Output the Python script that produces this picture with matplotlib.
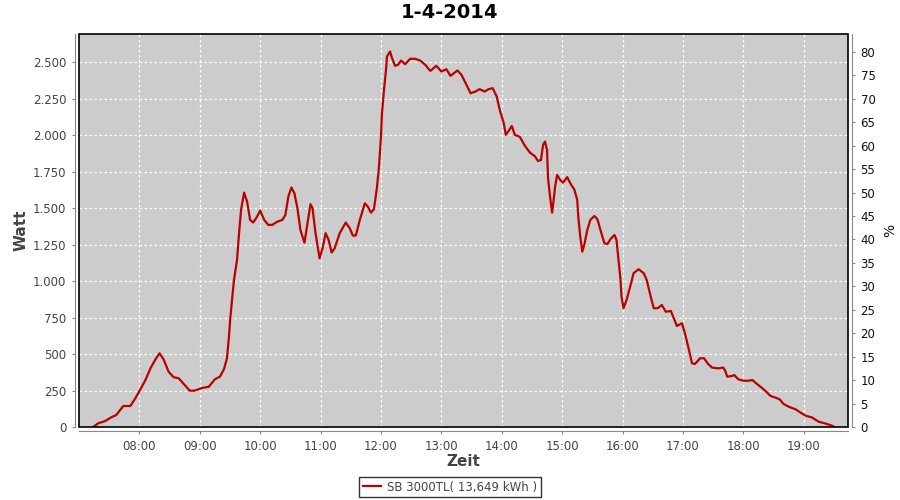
import matplotlib
matplotlib.use("Agg")
import matplotlib.pyplot as plt
import matplotlib.dates as mdates
from matplotlib.ticker import FuncFormatter, MultipleLocator
from matplotlib.patches import Rectangle
import datetime as dt

title = "1-4-2014"
series_name = "SB 3000TL( 13,649 kWh )"

times = [
    "07:14", "07:19", "07:26", "07:32", "07:37", "07:44", "07:51", "07:56", "08:01", "08:06",
    "08:11", "08:16", "08:20", "08:24", "08:29", "08:34", "08:39", "08:44", "08:50", "08:55",
    "09:02", "09:09", "09:15", "09:20", "09:24", "09:27", "09:29", "09:30", "09:32", "09:34",
    "09:37", "09:39", "09:41", "09:44", "09:47", "09:50", "09:53", "09:57", "10:00", "10:04",
    "10:08", "10:12", "10:17", "10:22", "10:25", "10:28", "10:31", "10:34", "10:37", "10:40",
    "10:44", "10:46", "10:50", "10:52", "10:55", "10:59", "11:02", "11:05", "11:08", "11:11",
    "11:14", "11:19", "11:25", "11:29", "11:32", "11:35", "11:39", "11:44", "11:47", "11:50",
    "11:53", "11:56", "11:58", "12:00", "12:01", "12:03", "12:05", "12:06", "12:09", "12:11",
    "12:14", "12:17", "12:20", "12:24", "12:29", "12:34", "12:39", "12:44", "12:49", "12:55",
    "13:00", "13:05", "13:09", "13:16", "13:20", "13:25", "13:29", "13:34", "13:38", "13:43",
    "13:47", "13:51", "13:55", "13:58", "14:02", "14:04", "14:07", "14:10", "14:13", "14:18",
    "14:23", "14:28", "14:33", "14:36", "14:39", "14:41", "14:43", "14:45", "14:46", "14:48",
    "14:50", "14:51", "14:53", "14:55", "14:58", "15:01", "15:05", "15:09", "15:12", "15:15",
    "15:16", "15:18", "15:20", "15:22", "15:25", "15:28", "15:32", "15:35", "15:39", "15:42",
    "15:45", "15:48", "15:52", "15:54", "15:56", "15:58", "15:59", "16:01", "16:04", "16:08",
    "16:11", "16:16", "16:21", "16:24", "16:28", "16:31", "16:35", "16:39", "16:43", "16:48",
    "16:51", "16:54", "16:59", "17:02", "17:06", "17:09", "17:12", "17:17", "17:21", "17:25",
    "17:29", "17:35", "17:40", "17:42", "17:44", "17:49", "17:51", "17:55", "18:00", "18:05",
    "18:09", "18:12", "18:17", "18:22", "18:27", "18:32", "18:36", "18:40", "18:45", "18:52",
    "18:57", "19:02", "19:08", "19:15", "19:21", "19:29", "19:30",
]
watts = [
    0, 25, 41, 66, 82, 144, 144, 197, 258, 322,
    402, 464, 505, 464, 379, 341, 334, 295, 249, 249,
    267, 276, 327, 345, 395, 471, 620, 720, 870, 1008,
    1145, 1328, 1488, 1606, 1545, 1419, 1401, 1442, 1483, 1419,
    1385, 1385, 1407, 1419, 1453, 1579, 1641, 1602, 1499, 1350,
    1263, 1350, 1527, 1499, 1328, 1156, 1225, 1328, 1282, 1195,
    1225, 1328, 1401, 1362, 1312, 1312, 1419, 1533, 1510, 1469,
    1492, 1640, 1780, 1990, 2150, 2310, 2447, 2539, 2573, 2528,
    2475, 2482, 2511, 2486, 2523, 2523, 2511, 2482, 2440, 2475,
    2436, 2452, 2406, 2443, 2413, 2344, 2287, 2299, 2315, 2299,
    2315, 2322, 2264, 2173, 2082, 2002, 2031, 2063, 2002, 1988,
    1927, 1880, 1855, 1823, 1830, 1933, 1956, 1899, 1705, 1579,
    1469, 1522, 1647, 1727, 1693, 1675, 1712, 1659, 1629, 1556,
    1442, 1305, 1202, 1248, 1350, 1419, 1446, 1424, 1328, 1259,
    1254, 1287, 1316, 1282, 1145, 1008, 893, 814, 870, 973,
    1054, 1081, 1054, 1008, 893, 814, 814, 836, 790, 795,
    745, 692, 711, 642, 528, 437, 432, 471, 471, 432,
    407, 402, 407, 386, 345, 350, 356, 327, 317, 317,
    322, 304, 276, 247, 213, 201, 190, 158, 139, 121,
    98, 77, 66, 36, 25, 7, 0,
]

day = dt.date(2014, 4, 1)
xs = [dt.datetime.combine(day, dt.datetime.strptime(t, "%H:%M").time()) for t in times]

fig = plt.figure(figsize=(9, 5), dpi=100)
fig.patch.set_facecolor("white")
ax = fig.add_axes([79 / 900, 1 - 427 / 500, (848 - 79) / 900, (427 - 34) / 500])
ax.set_facecolor("#cccccc")

line, = ax.plot(xs, watts, color="#bb0000", lw=1.6, zorder=3, label=series_name)

ax.set_xlim(dt.datetime(2014, 4, 1, 7, 0), dt.datetime(2014, 4, 1, 19, 44))
ax.set_ylim(0, 2693)
ax.xaxis.set_major_locator(mdates.HourLocator(byhour=range(8, 20)))
ax.xaxis.set_major_formatter(mdates.DateFormatter("%H:%M"))
ax.yaxis.set_major_locator(MultipleLocator(250))
ax.yaxis.set_major_formatter(FuncFormatter(lambda v, p: f"{int(round(v)):,}".replace(",", ".")))

ax.grid(True, color="white", lw=0.9, ls=(0, (2, 2)))
ax.set_axisbelow(True)

for s in ["top", "right"]:
    ax.spines[s].set_visible(False)
for s in ["left", "bottom"]:
    ax.spines[s].set_color("#888888")
    ax.spines[s].set_position(("outward", 3))
ax.tick_params(axis="both", colors="#888888", length=2.5, width=0.8,
               labelcolor="#444444", labelsize=8.5)

ax.add_patch(Rectangle((0, 0), 1, 1, transform=ax.transAxes, fill=False,
                       edgecolor="black", lw=1.2, zorder=5, clip_on=False))

ax2 = ax.twinx()
ax2.set_ylim(0, 83.8)
ax2.yaxis.set_major_locator(MultipleLocator(5))
for s in ["top", "left", "bottom"]:
    ax2.spines[s].set_visible(False)
ax2.spines["right"].set_color("#888888")
ax2.spines["right"].set_position(("outward", 3))
ax2.tick_params(axis="y", colors="#888888", length=2.5, width=0.8,
                labelcolor="#111111", labelsize=8.5)

ax.set_xlabel("Zeit", fontsize=11, color="#444444", fontweight="bold", labelpad=1)
ax.set_ylabel("Watt", fontsize=11, color="#444444", fontweight="bold", labelpad=3)
ax2.set_ylabel("%", fontsize=10, color="#111111", labelpad=6)

fig.text(0.5, 1 - 13 / 500, title, ha="center", va="center", fontsize=14,
         fontweight="bold", color="black")

leg = fig.legend(handles=[line], loc="center", bbox_to_anchor=(0.5, 1 - 487 / 500),
                 frameon=True, fancybox=False, fontsize=8.5, handlelength=1.6,
                 borderpad=0.3, handletextpad=0.5, borderaxespad=0)
leg.get_frame().set_edgecolor("black")
leg.get_frame().set_linewidth(1.0)
for t in leg.get_texts():
    t.set_color("#444444")

fig.savefig("out.png", dpi=100)
